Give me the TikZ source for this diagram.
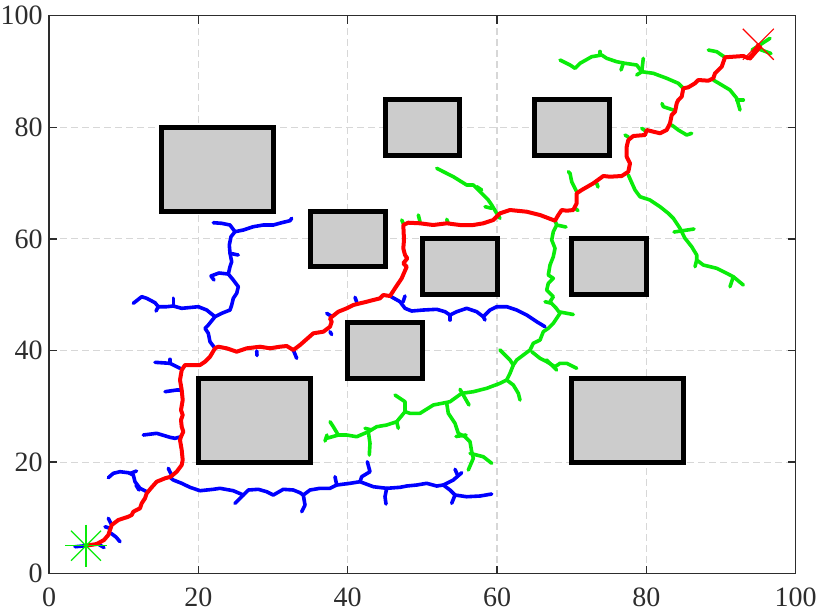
\documentclass[tikz,border=0pt]{standalone}
\usepackage{fontspec}
\setmainfont{Liberation Serif}
\definecolor{gtree}{RGB}{10,235,10}
\definecolor{axcol}{RGB}{45,45,45}
\definecolor{gridcol}{RGB}{215,215,215}
\definecolor{obfill}{RGB}{204,204,204}
\begin{document}
\begin{tikzpicture}[x=0.5pt,y=-0.5pt,
  gridline/.style={draw=gridcol, line width=0.55pt, dash pattern=on 3.5pt off 2pt},
  frame/.style={draw=axcol, line width=0.7pt},
  obst/.style={draw=black, fill=obfill, line width=2.5pt},
  bl/.style={draw=blue, line width=1.8pt, line join=round, line cap=round},
  gr/.style={draw=gtree, line width=1.8pt, line join=round, line cap=round},
  rd/.style={draw=red, line width=2pt, line join=round, line cap=round},
  lbl/.style={inner sep=0pt, font=\fontsize{14}{16}\selectfont, text=axcol},
  startmk/.style={draw=gtree, line width=0.6pt},
  goalmk/.style={draw=red, line width=0.6pt}]
\useasboundingbox (0,0) rectangle (817,612);
% ---------- data coordinates: grid and obstacles
\begin{scope}[shift={(49,573.7)},x=3.7335pt,y=2.79pt]
  \foreach \v in {20,40,60,80} {
    \draw[gridline] (\v,0) -- (\v,100);
    \draw[gridline] (0,\v) -- (100,\v);
  }
  \draw[obst] (15,65) rectangle (30,80);
  \draw[obst] (45,75) rectangle (55,85);
  \draw[obst] (65,75) rectangle (75,85);
  \draw[obst] (35,55) rectangle (45,65);
  \draw[obst] (50,50) rectangle (60,60);
  \draw[obst] (70,50) rectangle (80,60);
  \draw[obst] (40,35) rectangle (50,45);
  \draw[obst] (20,20) rectangle (35,35);
  \draw[obst] (70,20) rectangle (85,35);
\end{scope}
% ---------- goal tree (green)
\draw[gr] plot coordinates {(560,60) (570,65) (575,68.3) (580,63.3) (591.7,56.7) (601.7,55) (606.7,58.3) (616.7,61.7) (625,63.3) (636.7,65) (641.7,71.7) (653.3,73.3) (666.7,78.3) (678.3,83.3) (683.3,88.3)};
\draw[gr] (600,55) -- (600,51.5);
\draw[gr] (623.3,63.3) -- (621,70);
\draw[gr] (643.3,58.3) -- (641.7,71.7) -- (636.7,75);
\draw[gr] plot coordinates {(708.3,50) (716.7,51.7) (725,57.3)};
\draw[gr] (752,50) -- (770,38.3);
\draw[gr] (756,48) -- (771,53.5);
\draw[gr] plot coordinates {(713.3,80) (721.7,85) (730,90) (736.7,98.3) (740,110)};
\draw[gr] (736.7,100) -- (743.3,100);
\draw[gr] plot coordinates {(673.3,110) (663.3,106.7) (662,103.5)};
\draw[gr] plot coordinates {(671.7,125) (678.3,130) (686.7,135) (691.7,133.3)};
\draw[gr] (625,135) -- (628.3,137);
\draw[gr] (641.7,128.3) -- (646.7,131.7);
\draw[gr] plot coordinates {(576.7,191.7) (571.7,181.7) (570,173.3) (568.3,171.7)};
\draw[gr] plot coordinates {(628.3,175) (635,190) (640,196.7) (650,200) (660,206.7) (668.3,213.3) (673.3,218.3) (680,228.3) (685,238.3) (691.7,246.7) (696.7,255) (696.7,260) (703.3,265) (716.7,268.3) (726.7,273.3) (733.3,276.7) (743.3,285)};
\draw[gr] (674,232) -- (694,229);
\draw[gr] (696.7,260) -- (695,266.7);
\draw[gr] (733.3,276.7) -- (730,286.7);
\draw[gr] (575,208.3) -- (578,210.5);
\draw[gr] (596.7,183.3) -- (598,187);
\draw[gr] plot coordinates {(555,220.7) (556.7,225) (553.3,231.7) (551.7,240) (555,248.3) (553.3,256.7) (550,265) (548.3,275) (553.3,278.3) (548.3,283.3) (546.7,290) (553.3,296.7) (550,301.7) (556,308) (560,313.3) (553.3,323.3) (548.3,328.3) (543.3,331.7) (540,340) (533.3,343.3) (530,350) (523.3,355) (516.7,360) (513.3,365) (510,373.3) (506.7,380) (500,383.3) (486.7,388.3) (473.3,391.7) (461.7,393.3) (450,401.7) (433.3,405) (420,413.3) (410,413.3) (405,411.7) (396.7,421.7) (386.7,425) (376.7,426.7) (368.3,431.7) (356.7,436.7) (346.7,435) (338.3,435) (326.7,438.3)};
\draw[gr] (556.7,225) -- (566,227);
\draw[gr] (545,301.7) -- (551.7,303.3);
\draw[gr] (560,312) -- (573.3,314.5);
\draw[gr] plot coordinates {(513.3,365) (510,360) (500,350)};
\draw[gr] plot coordinates {(531.7,351.7) (540,358.3) (546.7,361.7) (555,366.7) (560,363.3) (566.7,363.3) (576.7,368.3)};
\draw[gr] (546.7,360) -- (556.7,370);
\draw[gr] plot coordinates {(506.7,380) (513.3,385) (518.3,393.3) (520,400)};
\draw[gr] (460,389.3) -- (469,405);
\draw[gr] plot coordinates {(446.7,403.3) (448.3,413.3) (455,423.3) (458.3,433.3) (465,436.7) (470,441.7) (471.7,451.7) (473.3,458.3) (468.3,470)};
\draw[gr] plot coordinates {(470,453.3) (483.3,456.7) (491.7,463.3)};
\draw[gr] (456,436.5) -- (466,435);
\draw[gr] plot coordinates {(405,411.7) (405,401.7) (395,395)};
\draw[gr] (396.7,421.7) -- (398.3,428.3);
\draw[gr] plot coordinates {(368.3,431.7) (370,443.3) (369.3,455)};
\draw[gr] (365,428.3) -- (371.7,430);
\draw[gr] plot coordinates {(338.3,435) (333.3,426.7) (330,421.7)};
\draw[gr] (325,441) -- (327,435);
\draw[gr] plot coordinates {(436.7,168.3) (453.3,176.7) (466.7,185) (473.3,185) (480,191.7) (488.3,200) (491.7,205) (496.7,213.3) (500,218.3)};
\draw[gr] (476.7,186.7) -- (481.7,190);
\draw[gr] (485,206.7) -- (491.7,208.3);
\draw[gr] (401.7,220) -- (404,225);
\draw[gr] (418.3,215) -- (420,221.7);
\draw[gr] (446.7,219.3) -- (448.3,223.3);
% ---------- start tree (blue)
\draw[bl] (75,546.7) -- (86,545.7);
\draw[bl] (98,544) -- (104,547.5);
\draw[bl] plot coordinates {(111,533.3) (116,537) (120,541.7)};
\draw[bl] (105,526.7) -- (110,528.3);
\draw[bl] (108.3,518.3) -- (111.7,525);
\draw[bl] plot coordinates {(146.7,491.7) (140,488.3) (135,481.7) (133.3,475) (128.3,472.7) (120,471.7) (113.3,473.3) (108.3,477.7)};
\draw[bl] (130,473.5) -- (136.5,471);
\draw[bl] (136,485) -- (139,490);
\draw[bl] plot coordinates {(143.3,435) (156.7,433.3) (170,437.3) (175,438.3) (181,436.7)};
\draw[bl] plot coordinates {(170,477.3) (173.3,480) (181.7,483.3) (190,487.3) (200,490.7) (213.3,489.3) (220,488.3) (233.3,490.7) (243.3,495) (248.3,490) (258.3,489.3) (266.7,491.7) (273.3,495) (283.3,489.3) (293.3,490) (300,492.7) (303.3,495) (310,490) (320,488.3) (330,488.3) (336.7,485) (350,483.3) (360,481.7) (373.3,486.7) (386.7,488.3) (400,487.3) (406.7,486) (416.7,485) (426.7,483.3) (436.7,486) (443.3,485) (450,490) (455,495) (466.7,496.7) (480,496) (491.7,494)};
\draw[bl] (168.3,468.3) -- (172,476);
\draw[bl] (243.3,495) -- (235,503.3);
\draw[bl] plot coordinates {(303.3,495) (305,505) (301.7,511.7)};
\draw[bl] plot coordinates {(360,481.7) (361.7,476.7) (370,471.7) (367.3,461.7)};
\draw[bl] (336.7,485) -- (335,476.7);
\draw[bl] plot coordinates {(386.7,488.3) (385,496.7) (386,504)};
\draw[bl] plot coordinates {(443.3,485) (453.3,480) (461.7,472.7)};
\draw[bl] (455,469.3) -- (458,476);
\draw[bl] (455,495) -- (451.7,503.3);
\draw[bl] plot coordinates {(215,348.3) (210,341.7) (208.3,333.3) (205,328.3) (208.3,325) (215,316.7) (221.7,313.3) (230,310) (231.7,305) (233.3,298.3) (236.7,293.3) (238.3,286.7) (233.3,280) (228.3,274) (230,266.7) (231.7,261.7) (230,253.3) (229.3,245) (231,236.7) (235,231.7) (243.3,230) (253.3,226.7) (263.3,225) (273.3,225) (281.7,222.7) (290,220.7) (291.7,218.3)};
\draw[bl] plot coordinates {(235,231.7) (230,225) (221.7,223.3) (213.3,222.7)};
\draw[bl] plot coordinates {(228.3,274) (219,273) (211,276) (214,280)};
\draw[bl] (230,253.3) -- (238.3,255);
\draw[bl] plot coordinates {(215,316.7) (206.7,310) (198.3,306.7) (190,307.5) (181.7,308.3) (173.3,306) (166.7,306.7) (158.3,306.7) (155,302.7) (146.7,298.3) (141.7,296.7) (133.3,303.3)};
\draw[bl] (173.3,306) -- (173.3,298.3);
\draw[bl] (158.3,306.7) -- (156,311);
\draw[bl] plot coordinates {(155,362.3) (170,363.3) (180,368.3)};
\draw[bl] (170,363.3) -- (170,359.3);
\draw[bl] plot coordinates {(165,391.7) (176.7,390) (180.5,390)};
\draw[bl] (256.7,351) -- (257,355.5);
\draw[bl] (293.3,350) -- (296.7,358.3);
\draw[bl] (326.7,313.3) -- (331,316);
\draw[bl] (330,331.7) -- (331.7,334.5);
\draw[bl] (355,297.3) -- (356.7,302);
\draw[bl] plot coordinates {(390,296) (400,301.7) (405,308.3) (411.7,311) (423.3,310) (436.7,309.3) (445,311.7) (450,315) (456.7,311.7) (466.7,308.3) (476.7,311.7) (483.3,316.7) (490,310) (496.7,306.7) (506.7,306.7) (516.7,310) (526.7,315) (536.7,321.7) (545,326.7)};
\draw[bl] (403,302) -- (405,296);
\draw[bl] (450,315) -- (450,320);
\draw[bl] (483.3,316.7) -- (485,320);
% ---------- path (red)
\coordinate (start) at (86,545.7);
\coordinate (goal) at (758.3,44.3);
\draw[rd] plot coordinates {(86,545.7) (96.7,544) (104,540) (108.3,535) (111.7,525) (118.3,520) (128.3,516.7) (131.7,515) (133.3,511.7) (140,508.3) (141.7,503.3) (145,498.3) (146.7,493.3) (151.7,487.3) (156.7,481.7) (165,478.3) (170.7,476.7) (176.7,471.7) (181.7,465) (182.7,460) (181.7,450) (180,440) (181,436.7) (183.3,431.7) (181.7,426.7) (181,420) (182.7,415) (181,410) (182.7,400) (181.7,390) (180,380) (181.7,370) (185,365) (200,365) (205,361.7) (210,356.7) (215,348.3) (218.3,346.7) (226.7,348.3) (236.7,351.7) (246.7,348.3) (260,346.7) (270,348.3) (280,346.7) (286.7,346) (293.3,350) (300,345) (313.3,333.3) (323.3,331.7) (330,326.7) (331.7,321.7) (330,318.3) (338.3,311.7) (346.7,308.3) (353.3,305) (366.7,301.7) (380,298.3) (383.3,295) (390,296) (395,288.3) (401.7,278.3) (406.7,266.7) (403.3,263.3) (407.3,258.3) (405,255) (403.3,248.3) (404,240) (403.3,225) (408.3,222.7) (420,223.3) (433.3,225) (446.7,223.3) (460,225) (473.3,225) (483.3,223.3) (493.3,220) (500,213.3) (510,210) (526.7,211.7) (540,215) (555,220.7) (558.3,215) (561.7,210) (566.7,210.7) (573.3,210) (576.7,203.3) (576.7,193.3) (581.7,190) (593.3,183.3) (603.3,176) (610,176.7) (621.7,176) (628.3,171.7) (630,163.3) (626.7,156.7) (626.7,146.7) (628.3,140) (633.3,136) (645,135) (646.7,130) (660,133.3) (666.7,130) (670,123.3) (671.7,115) (675,111.7) (676.7,103.3) (678.3,100) (681.7,96.7) (683.3,88.3) (688.3,87.3) (695,83.3) (698.3,80) (708.3,80.7) (713.3,78.3) (715,73.3) (721.7,66.7) (725,57.3) (733.3,56.7) (743.3,56) (748.3,58.3) (753.3,53.3) (758.3,45)};
\draw[rd] (750,58.5) -- (760,47);
% ---------- markers
\draw[startmk] ([shift={(-21,0)}]start) -- ([shift={(21,0)}]start);
\draw[startmk] ([shift={(0,-21)}]start) -- ([shift={(0,21)}]start);
\draw[startmk] ([shift={(-15,-15)}]start) -- ([shift={(15,15)}]start);
\draw[startmk] ([shift={(-15,15)}]start) -- ([shift={(15,-15)}]start);
\draw[goalmk] ([shift={(-15.5,-15.5)}]goal) -- ([shift={(15.5,15.5)}]goal);
\draw[goalmk] ([shift={(-15.5,15.5)}]goal) -- ([shift={(15.5,-15.5)}]goal);
% ---------- axes
\begin{scope}[shift={(49,573.7)},x=3.7335pt,y=2.79pt]
  \draw[frame] (0,0) rectangle (100,100);
  \foreach \v in {20,40,60,80} {
    \draw[frame] (\v,0) -- (\v,1.43);
    \draw[frame] (\v,100) -- (\v,98.57);
    \draw[frame] (0,\v) -- (1.07,\v);
    \draw[frame] (100,\v) -- (98.93,\v);
  }
  \foreach \v in {0,20,40,60,80,100} {
    \node[lbl,anchor=north,yshift=-7pt] (xl\v) at (\v,0) {\v};
    \node[lbl,anchor=east,xshift=-3pt] (yl\v) at (0,\v) {\v};
  }
\end{scope}
\end{tikzpicture}
\end{document}
